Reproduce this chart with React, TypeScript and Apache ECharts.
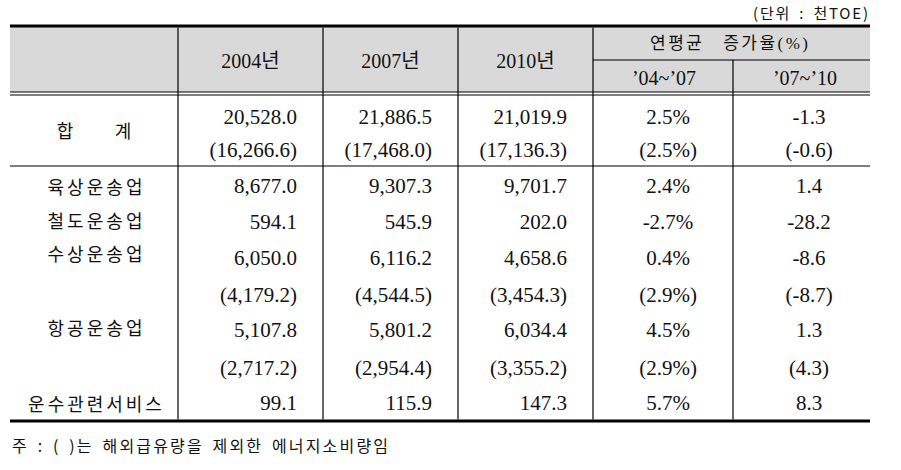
import React, { useEffect, useRef } from "react";
import * as echarts from "echarts";

// ---- data ----
const unitLabel = "(단위 : 천TOE)";
const footnote = "주 : ( )는 해외급유량을 제외한 에너지소비량임";
const years = ["2004년", "2007년", "2010년"];
const growthTitle = "연평균 증가율(%)";
const growthPeriods = ["’04~’07", "’07~’10"];
const categories = ["합계", "육상운송업", "철도운송업", "수상운송업", "항공운송업", "운수관련서비스"];
const v2004 = [20528.0, 8677.0, 594.1, 6050.0, 5107.8, 99.1];
const v2007 = [21886.5, 9307.3, 545.9, 6116.2, 5801.2, 115.9];
const v2010 = [21019.9, 9701.7, 202.0, 4658.6, 6034.4, 147.3];
const g0407 = [2.5, 2.4, -2.7, 0.4, 4.5, 5.7];
const g0710 = [-1.3, 1.4, -28.2, -8.6, 1.3, 8.3];
// values excluding international bunkering (null = not given)
const ex2004 = [16266.6, null, null, 4179.2, 2717.2, null];
const ex2007 = [17468.0, null, null, 4544.5, 2954.4, null];
const ex2010 = [17136.3, null, null, 3454.3, 3355.2, null];
const exG0407 = [2.5, null, null, 2.9, 2.9, null];
const exG0710 = [-0.6, null, null, -8.7, 4.3, null];

const fmt = (v: number) =>
  v.toLocaleString("en-US", { minimumFractionDigits: 1, maximumFractionDigits: 1 });

export default function App() {
  const ref = useRef<HTMLDivElement>(null);
  useEffect(() => {
    if (!ref.current) return;
    const chart = echarts.init(ref.current, null, { renderer: "svg" });

    const SERIF = '"Liberation Serif", "Noto Sans CJK KR", serif';
    const SANS = '"Noto Sans CJK KR", sans-serif';
    const L = 10, R = 870;
    const vx = [178, 323, 458, 593, 733];
    const yTop = 26, yHeadBot = 92, yBot = 421;
    const numRight = [297, 432, 567];
    const gCenter = [668, 809];

    // wide-set Korean texts: [rendered width, word spacing]
    const spacing: Record<string, [number, number]> = {};
    categories.forEach((c) => (spacing[c] = [c.length * 19.4 - 2, 0]));
    spacing[growthTitle] = [158, 12];
    spacing[footnote] = [376, 3];
    spacing[unitLabel] = [115, 3];

    const g: any[] = [];
    const txt = (text: string, x: number, y: number, size: number, family: string, align: string) =>
      g.push({
        type: "text",
        x,
        y,
        silent: true,
        style: {
          text,
          fontSize: size,
          fontFamily: family,
          fill: "#111",
          align,
          verticalAlign: "middle",
          textAlign: align,
          textVerticalAlign: "middle",
        },
      });
    const line = (x1: number, y1: number, x2: number, y2: number, w: number) =>
      g.push({ type: "line", silent: true, shape: { x1, y1, x2, y2 }, style: { stroke: "#000", lineWidth: w } });

    // header background
    g.push({ type: "rect", silent: true, shape: { x: L, y: yTop, width: R - L, height: yHeadBot - yTop }, style: { fill: "#d9d9d9" } });

    // lines
    line(L, yTop, R, yTop, 3);
    line(L, yHeadBot, R, yHeadBot, 1.2);
    line(L, yHeadBot + 3, R, yHeadBot + 3, 1.2);
    line(vx[3], 60, R, 60, 1.2);
    line(L, 166, R, 166, 1.2);
    line(L, yBot, R, yBot, 3.2);
    vx.forEach((x, i) => line(x, i === 4 ? 60 : yTop + 1.5, x, yBot - 1.5, 1.2));

    // header texts
    txt(unitLabel, 868, 12, 15, SANS, "right");
    const yrCenters = [(vx[0] + vx[1]) / 2, (vx[1] + vx[2]) / 2, (vx[2] + vx[3]) / 2];
    years.forEach((y, i) => txt(y, yrCenters[i], 61, 20, SERIF, "center"));
    txt(growthTitle, 729, 43, 17, SERIF, "center");
    growthPeriods.forEach((p, i) => txt(p, gCenter[i] - 4, 78, 20, SERIF, "center"));

    // body rows
    const mainY = [117, 186, 222, 258, 330, 403];
    const exY = [150, null, null, 295, 368, null];
    const labelY = [130, 186, 220, 253, 327, 403];
    categories.forEach((c, i) => {
      if (i === 0) {
        txt("합", 65, labelY[i], 18, SANS, "center");
        txt("계", 123, labelY[i], 18, SANS, "center");
      } else {
        txt(c, 95, labelY[i], 18, SANS, "center");
      }
      const vals = [v2004[i], v2007[i], v2010[i]];
      vals.forEach((v, k) => txt(fmt(v), numRight[k], mainY[i], 21, SERIF, "right"));
      txt(fmt(g0407[i]) + "%", gCenter[0], mainY[i], 21, SERIF, "center");
      txt(fmt(g0710[i]), gCenter[1], mainY[i], 21, SERIF, "center");
      const ey = exY[i];
      if (ey != null) {
        const exs = [ex2004[i], ex2007[i], ex2010[i]];
        exs.forEach((v, k) => txt("(" + fmt(v as number) + ")", numRight[k], ey, 21, SERIF, "right"));
        txt("(" + fmt(exG0407[i] as number) + "%)", gCenter[0], ey, 21, SERIF, "center");
        txt("(" + fmt(exG0710[i] as number) + ")", gCenter[1], ey, 21, SERIF, "center");
      }
    });

    txt(footnote, 12, 445, 16, SANS, "left");

    chart.setOption({ animation: false, graphic: g });

    const applySpacing = () => {
      const root = ref.current;
      if (!root) return;
      root.querySelectorAll("text").forEach((el) => {
        const s = spacing[(el.textContent || "").trim()];
        if (s) {
          el.setAttribute("textLength", String(s[0]));
          el.setAttribute("lengthAdjust", "spacing");
          el.setAttribute("word-spacing", s[1] + "px");
          (el as any).style.wordSpacing = s[1] + "px";
        }
      });
    };
    applySpacing();
    chart.on("finished", applySpacing);
    const raf = requestAnimationFrame(applySpacing);
    return () => {
      cancelAnimationFrame(raf);
      chart.dispose();
    };
  }, []);
  return (
    <div
      ref={ref}
      style={{ position: "absolute", left: 0, top: 0, width: 901, height: 470, background: "#fff" }}
    />
  );
}
